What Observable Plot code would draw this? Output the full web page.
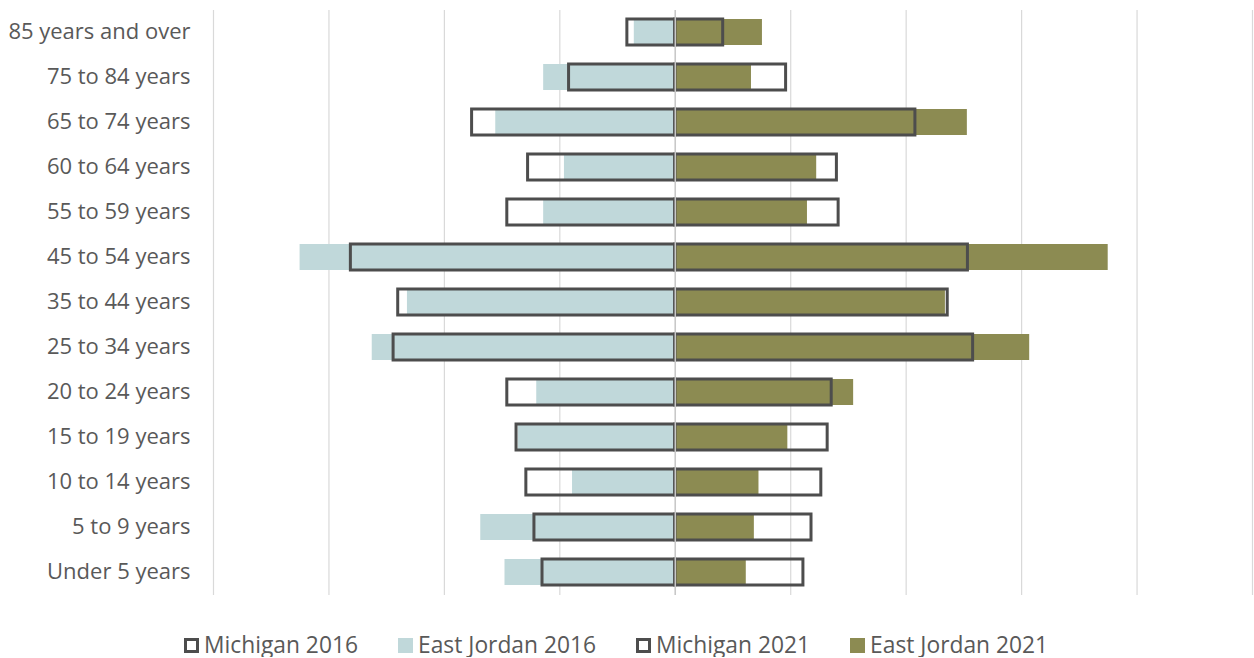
<!DOCTYPE html>
<html>
<head>
<meta charset="utf-8">
<script src="https://cdn.jsdelivr.net/npm/d3@7"></script>
<script src="https://cdn.jsdelivr.net/npm/@observablehq/plot@0.6"></script>
<style>
  html, body { margin: 0; padding: 0; background: #fff; overflow: hidden; }
  #chart { width: 1254px; height: 610px; }
  #chart svg { display: block; }
  .legend { display: flex; align-items: center; padding-left: 184px; margin-top: 23px; height: 24px; line-height: 24px;
            font-family: "Open Sans", sans-serif; font-size: 22.8px; color: #595959; }
  .item { display: flex; align-items: center; margin-right: 40px; }
  .sw { width: 15px; height: 15px; margin-right: 5px; box-sizing: border-box; }
</style>
</head>
<body>
<div id="chart"></div>
<script>
const categories = ["85 years and over","75 to 84 years","65 to 74 years","60 to 64 years","55 to 59 years","45 to 54 years","35 to 44 years","25 to 34 years","20 to 24 years","15 to 19 years","10 to 14 years","5 to 9 years","Under 5 years"];
const michigan2016   = [0.83,1.84,3.52,2.55,2.91,5.62,4.80,4.88,2.91,2.75,2.58,2.44,2.30];
const eastJordan2016 = [0.71,2.28,3.11,1.92,2.28,6.50,4.64,5.25,2.40,2.72,1.78,3.37,2.95];
const michigan2021   = [0.83,1.92,4.16,2.80,2.83,5.07,4.72,5.16,2.71,2.64,2.53,2.36,2.22];
const eastJordan2021 = [1.51,1.32,5.06,2.45,2.29,7.50,4.68,6.14,3.09,1.95,1.45,1.37,1.23];
const xTicks = [-8,-6,-4,-2,0,2,4,6,8,10];
const seriesNames = ["Michigan 2016","East Jordan 2016","Michigan 2021","East Jordan 2021"];

const colors = { blue: "#c0d8da", olive: "#8c8b52", outline: "#4d4d4d", grid: "#d9d9d9" };

const rows = categories.map((c, i) => ({
  cat: c, m16: michigan2016[i], ej16: eastJordan2016[i], m21: michigan2021[i], ej21: eastJordan2021[i]
}));

const chart = Plot.plot({
  width: 1254,
  height: 610,
  marginLeft: 213,
  marginRight: 2,
  marginTop: 10,
  marginBottom: 15,
  style: { fontFamily: "Open Sans, sans-serif", color: "#595959", background: "#fff" },
  x: { domain: [-8, 10], axis: null },
  y: { domain: categories, paddingInner: 0.42, paddingOuter: 0.21, label: null },
  marks: [
    Plot.ruleX(xTicks, { stroke: colors.grid, strokeWidth: 1.2 }),
    Plot.barX(rows, { y: "cat", x1: 0, x2: d => -d.ej16, fill: colors.blue }),
    Plot.barX(rows, { y: "cat", x1: 0, x2: d => d.ej21, fill: colors.olive }),
    Plot.barX(rows, { y: "cat", x1: 0, x2: d => -d.m16, fill: "none", stroke: colors.outline, strokeWidth: 3 }),
    Plot.barX(rows, { y: "cat", x1: 0, x2: d => d.m21, fill: "none", stroke: colors.outline, strokeWidth: 3 }),
    Plot.ruleX([0], { stroke: "#c8c8c8", strokeWidth: 1.5 }),
    Plot.axisY({ tickSize: 0, tickPadding: 23, fontSize: 22, label: null, fill: "#595959", dy: -1 })
  ]
});
document.getElementById("chart").appendChild(chart);

const legend = document.createElement("div");
legend.className = "legend";
const swatchStyles = [
  `border: 3px solid ${colors.outline}; background: #fff;`,
  `background: ${colors.blue};`,
  `border: 3px solid ${colors.outline}; background: #fff;`,
  `background: ${colors.olive};`
];
seriesNames.forEach((name, i) => {
  const item = document.createElement("div");
  item.className = "item";
  item.innerHTML = `<div class="sw" style="${swatchStyles[i]}"></div><span>${name}</span>`;
  legend.appendChild(item);
});
document.body.appendChild(legend);
</script>
</body>
</html>
